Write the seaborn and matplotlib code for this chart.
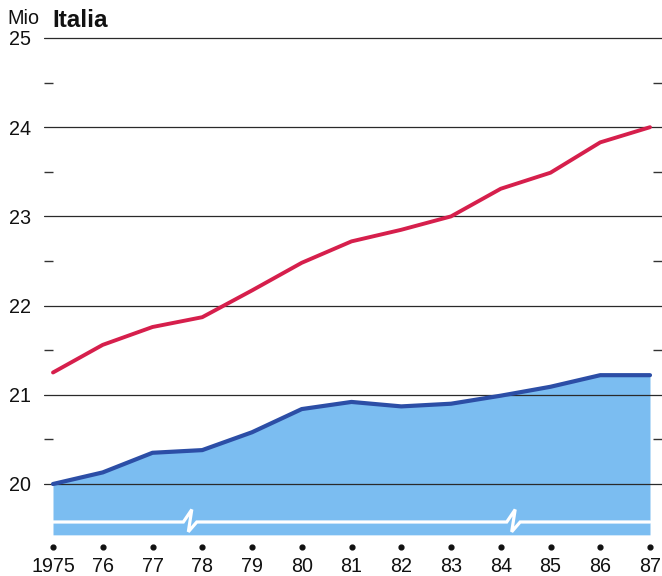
import matplotlib
matplotlib.use("Agg")
import matplotlib.pyplot as plt
import numpy as np
import pandas as pd
import seaborn as sns

# ---- data ----
years = [1975, 1976, 1977, 1978, 1979, 1980, 1981, 1982, 1983, 1984, 1985, 1986, 1987]
year_labels = ["1975", "76", "77", "78", "79", "80", "81", "82", "83", "84", "85", "86", "87"]
red_series = [21.25, 21.56, 21.76, 21.87, 22.17, 22.48, 22.72, 22.85, 23.00, 23.31, 23.49, 23.83, 24.00]
blue_series = [20.00, 20.13, 20.35, 20.38, 20.58, 20.84, 20.92, 20.87, 20.90, 20.99, 21.09, 21.22, 21.22]
y_major = [20, 21, 22, 23, 24, 25]
y_minor = [20.5, 21.5, 22.5, 23.5, 24.5]
title = "Italia"
unit = "Mio"

df = pd.DataFrame({"year": years, "red": red_series, "blue": blue_series})

sns.set_theme(style="white")
plt.rcParams["font.family"] = ["Liberation Sans", "DejaVu Sans"]

W, H = 662, 576
fig = plt.figure(figsize=(W / 100, H / 100), dpi=100)
ax = fig.add_axes([44 / W, (H - 540) / H, 618 / W, 510 / H])

RED = "#d61f4c"
DARK_BLUE = "#2c4ea6"
FILL = "#7bbdf1"

fill_bottom = 19.43
break_y = 19.574

# area
ax.fill_between(df["year"], df["blue"], fill_bottom, color=FILL, lw=0, zorder=1)

# gridlines
for v in y_major:
    ax.axhline(v, color="#2a2a2a", lw=0.9, zorder=2)

# axis break (white zigzag line)
bx = [years[0]]
by = [break_y]
for start in (1977.62, 1984.12):
    bx += [start, start + 0.17, start + 0.10, start + 0.27]
    by += [break_y, break_y + 0.14, break_y - 0.11, break_y]
bx.append(years[-1])
by.append(break_y)
ax.plot(bx, by, color="white", lw=2.3, zorder=3, solid_joinstyle="miter")

# lines
sns.lineplot(data=df, x="year", y="blue", ax=ax, color=DARK_BLUE, lw=3.0, zorder=4)
sns.lineplot(data=df, x="year", y="red", ax=ax, color=RED, lw=2.8, zorder=4)

ax.set_xlim(1975 - 9 / 49.75, 1987 + 12 / 49.75)
ax.set_ylim(20 - 56 / 89.2, 25 + 8 / 89.2)

for s in ax.spines.values():
    s.set_visible(False)

ax.set_yticks(y_major)
ax.set_yticklabels([str(v) for v in y_major])
ax.set_yticks(y_minor, minor=True)
ax.tick_params(axis="y", which="major", length=0, pad=9.0, labelsize=14.2, colors="#111111")
ax.tick_params(axis="y", which="minor", direction="in", length=6.5, width=1.0,
               color="#333333", left=True, right=True)

ax.set_xticks(years)
ax.set_xticklabels(year_labels)
ax.tick_params(axis="x", which="major", length=0, pad=12, labelsize=14.2, colors="#111111")
ax.set_xlabel("")
ax.set_ylabel("")

# dots above x labels
dot_y = 20 - (547 - 484) / 89.2
ax.scatter(years, [dot_y] * len(years), s=12, color="#111111", clip_on=False, zorder=5)

fig.text(7 / W, 1 - 24 / H, unit, fontsize=14.2, ha="left", va="baseline", color="#111111")
fig.text(52 / W, 1 - 27 / H, title, fontsize=17.5, fontweight="bold", ha="left",
         va="baseline", color="#111111")

fig.savefig("out.png", dpi=100, facecolor="white")
